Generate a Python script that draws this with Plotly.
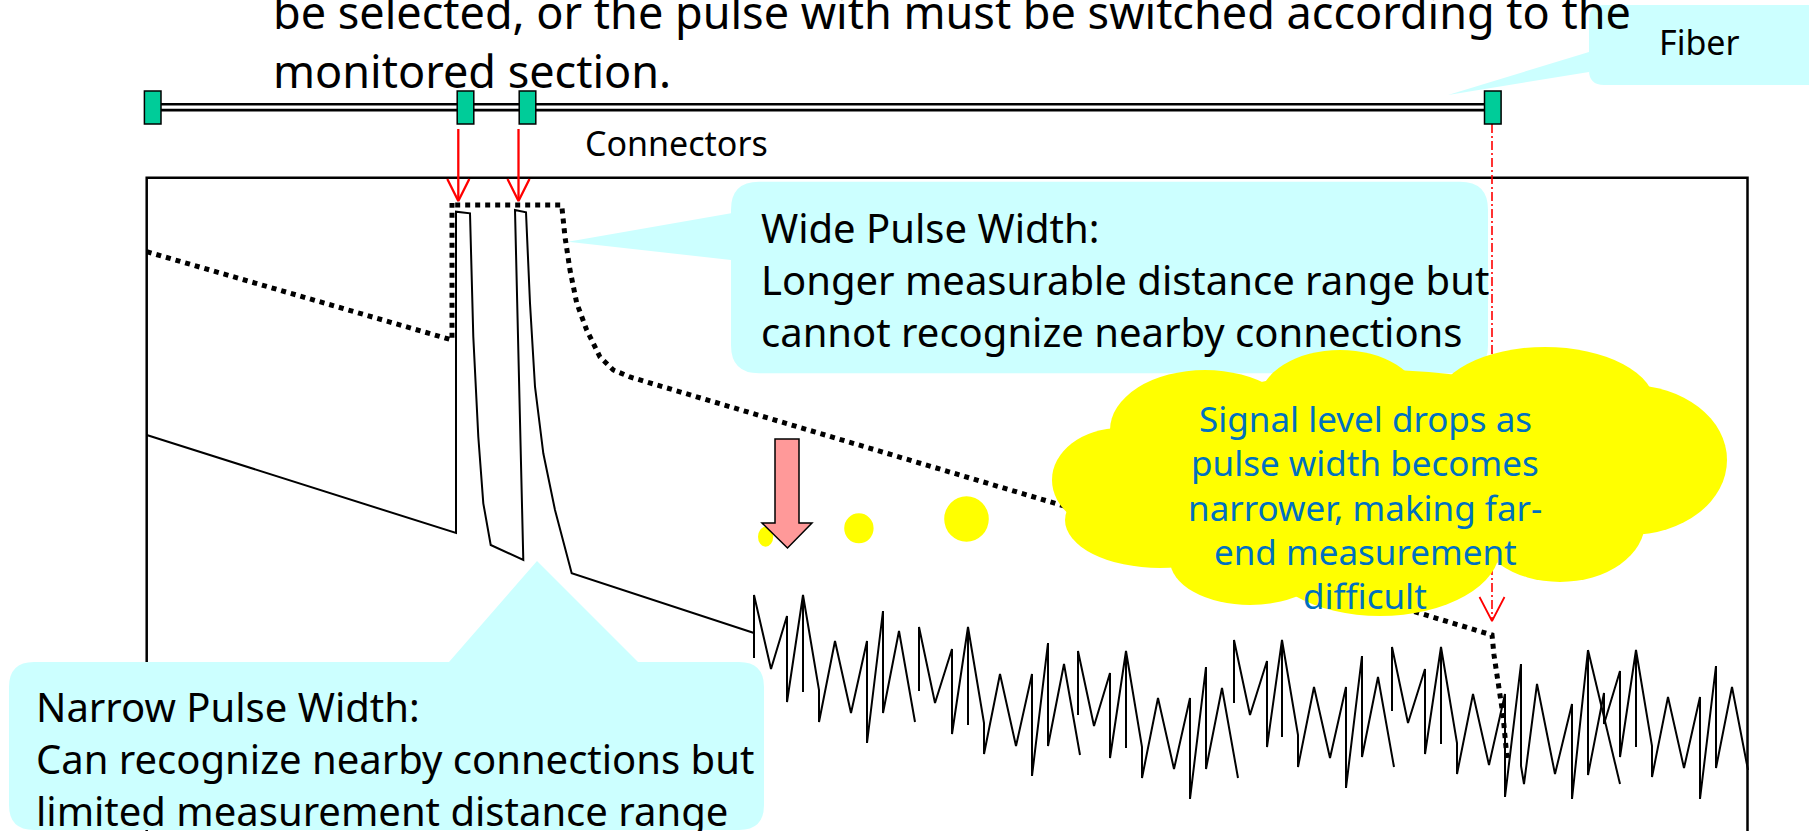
import plotly.graph_objects as go

W, H = 1809, 831
FONT = "Noto Sans"

# ---------------- data (pixel space of the diagram) ----------------
title_lines = ["be selected, or the pulse with must be switched according to the",
               "monitored section."]
wide_lines = ["Wide Pulse Width:",
              "Longer measurable distance range but",
              "cannot recognize nearby connections"]
narrow_lines = ["Narrow Pulse Width:",
                "Can recognize nearby connections but",
                "limited measurement distance range"]
cloud_lines = ["Signal level drops as", "pulse width becomes",
               "narrower, making far-", "end measurement", "difficult"]
fiber_label = "Fiber"
connector_label = "Connectors"

connector_x = [152.7, 465.5, 527.5, 1492.8]
fiber_x = [152.7, 1492.8]
marker_arrow_x = [458.3, 518.5]
far_end_x = 1492

# narrow-pulse trace (solid)
narrow_x = [146.7, 456, 456, 470, 473.3, 478.3, 483.3, 490.7, 523.3, 515, 526,
            530, 535, 543.3, 555, 571.7, 754]
narrow_y = [435, 533, 211.7, 213.3, 336.7, 436.7, 503.3, 545, 560, 210, 212.3,
            303.3, 386.7, 453.3, 510, 573.3, 633]

# wide-pulse trace (dotted)
wide_x = [146.7, 452, 452, 452, 561.7, 565, 570, 576.7, 586.7, 600, 613.3, 630,
          1081, 1423, 1492, 1494, 1498, 1503, 1507]
wide_y = [251.7, 340, 203, 205, 205, 237, 270, 303, 330, 357, 370, 377,
          511, 614, 635, 655, 680, 715, 758]

# noise floor of the narrow-pulse trace
noise_x = [754, 754, 754, 771, 787, 787, 803, 803, 803, 819, 819, 835, 851, 867, 867, 883, 883, 899, 915, None,
           919, 919, 935, 952, 952, 968, 968, 968, 984, 984, 1000, 1016, 1032, 1032, 1048, 1048, 1064, 1080, None,
           1078, 1078, 1094, 1110, 1110, 1126, 1126, 1126, 1142, 1142, 1158, 1174, 1190, 1190, 1206, 1206, 1222, 1238, None,
           1234, 1234, 1250, 1267, 1267, 1282, 1282, 1282, 1298, 1298, 1314, 1330, 1346, 1346, 1362, 1362, 1378, 1394, None,
           1392, 1392, 1408, 1425, 1425, 1441, 1441, 1441, 1457, 1457, 1473, 1489, 1505, 1505, 1521, 1521, 1524, 1537,
           1555, 1572, 1572, 1588, 1588, 1604, 1604, 1620, 1620, 1636, 1636, 1636, 1652, 1652, 1668, 1684, 1700, 1700,
           1716, 1716, 1732, 1748, None,
           1588, 1620]
noise_y = [633, 658, 595, 669, 616, 702, 595, 692, 595, 690, 722, 641, 713, 641, 743, 611, 713, 631, 722, None,
           691, 627, 703, 649, 734, 627, 725, 627, 723, 754, 674, 746, 674, 776, 643, 746, 664, 755, None,
           715, 651, 726, 673, 758, 651, 748, 651, 747, 778, 698, 769, 698, 799, 667, 769, 688, 778, None,
           703, 640, 715, 661, 747, 640, 737, 640, 735, 767, 687, 758, 687, 788, 656, 757, 677, 767, None,
           711, 647, 723, 669, 754, 647, 744, 647, 743, 774, 694, 765, 694, 797, 664, 766, 784, 684,
           774, 704, 799, 650, 775, 693, 724, 671, 757, 650, 747, 650, 746, 777, 697, 768, 697, 799,
           666, 768, 687, 770, None,
           650, 784]

# ---------------- helpers ----------------
def callout_path(x0, y0, x1, y1, r, tail_side=None, t1=None, t2=None, tip=None):
    p = [f"M {x0 + r},{y0}"]
    if tail_side == "top":
        p += [f"L {t1},{y0}", f"L {tip[0]},{tip[1]}", f"L {t2},{y0}"]
    p += [f"L {x1 - r},{y0}", f"Q {x1},{y0} {x1},{y0 + r}",
          f"L {x1},{y1 - r}", f"Q {x1},{y1} {x1 - r},{y1}",
          f"L {x0 + r},{y1}", f"Q {x0},{y1} {x0},{y1 - r}"]
    if tail_side == "left":
        p += [f"L {x0},{t2}", f"L {tip[0]},{tip[1]}", f"L {x0},{t1}"]
    p += [f"L {x0},{y0 + r}", f"Q {x0},{y0} {x0 + r},{y0}", "Z"]
    return " ".join(p)


def ellipse(cx, cy, rx, ry, color):
    return dict(type="circle", xref="x", yref="y", x0=cx - rx, x1=cx + rx,
                y0=cy - ry, y1=cy + ry, fillcolor=color, line=dict(width=0),
                layer="above")


def text_line(txt, x, baseline, size, color="black", anchor="left"):
    return dict(x=x, y=baseline - 0.388 * size, xref="x", yref="y", text=txt,
                showarrow=False, xanchor=anchor, yanchor="middle",
                font=dict(family=FONT, size=size, color=color), borderpad=0)


def text_block(lines, x, center, size, color="black"):
    return dict(x=x, y=center, xref="x", yref="y", text="<br>".join(lines),
                showarrow=False, xanchor="left", yanchor="middle", align="left",
                font=dict(family=FONT, size=size, color=color), borderpad=0)


fig = go.Figure()

# fiber double line
fig.add_trace(go.Scatter(x=fiber_x, y=[107.2, 107.2], mode="lines",
                         line=dict(color="black", width=8.5), hoverinfo="skip"))
fig.add_trace(go.Scatter(x=fiber_x, y=[107.2, 107.2], mode="lines",
                         line=dict(color="white", width=3.2), hoverinfo="skip"))

# wide pulse (dotted)
fig.add_trace(go.Scatter(x=wide_x, y=wide_y, mode="lines",
                         line=dict(color="black", width=5, dash="5px,5px"),
                         hoverinfo="skip"))
# narrow pulse
fig.add_trace(go.Scatter(x=narrow_x, y=narrow_y, mode="lines",
                         line=dict(color="black", width=2), hoverinfo="skip"))
fig.add_trace(go.Scatter(x=noise_x, y=noise_y, mode="lines", connectgaps=False,
                         line=dict(color="black", width=2), hoverinfo="skip"))

# red arrows from connectors
for ax in marker_arrow_x:
    fig.add_trace(go.Scatter(x=[ax, ax], y=[129, 200], mode="lines",
                             line=dict(color="red", width=2.3), hoverinfo="skip"))
    fig.add_trace(go.Scatter(x=[ax - 11, ax, ax + 11], y=[179, 201, 179], mode="lines",
                             line=dict(color="red", width=2.3), hoverinfo="skip"))
fig.add_trace(go.Scatter(x=[far_end_x, far_end_x], y=[124, 620], mode="lines",
                         line=dict(color="red", width=1.6, dash="9px,3px,2px,3px"),
                         hoverinfo="skip"))
fig.add_trace(go.Scatter(x=[far_end_x - 12.5, far_end_x, far_end_x + 12.5], y=[597, 621, 597],
                         mode="lines", line=dict(color="red", width=1.8), hoverinfo="skip"))

shapes = []
# OTDR display frame
shapes.append(dict(type="rect", xref="x", yref="y", x0=146.7, x1=1747.5, y0=177.7, y1=900,
                   line=dict(color="black", width=2.5), fillcolor="rgba(0,0,0,0)", layer="below"))
# connectors
for cx in connector_x:
    shapes.append(dict(type="rect", xref="x", yref="y", x0=cx - 8.3, x1=cx + 8.3, y0=91, y1=124,
                       fillcolor="#00CC99", line=dict(color="black", width=1.5), layer="above"))

CYAN = "#CCFFFF"
shapes.append(dict(type="path", xref="x", yref="y", layer="above", fillcolor=CYAN, line=dict(width=0),
                   path=callout_path(731, 181.7, 1488, 373.3, 28, "left", 213.3, 260, (568, 241.7))))
shapes.append(dict(type="path", xref="x", yref="y", layer="above", fillcolor=CYAN, line=dict(width=0),
                   path=callout_path(9, 662, 764, 830, 25, "top", 449, 638, (537, 561))))
shapes.append(dict(type="path", xref="x", yref="y", layer="above", fillcolor=CYAN, line=dict(width=0),
                   path=callout_path(1589, 5, 1840, 85, 15, "left", 52, 72, (1448, 95))))

YEL = "#FFFF00"
cloud = [(1380, 470, 250, 100), (1120, 480, 68, 52), (1160, 520, 95, 48), (1205, 430, 95, 60),
         (1340, 400, 80, 50), (1545, 405, 110, 58), (1630, 460, 97, 75), (1560, 522, 85, 60),
         (1380, 548, 120, 68), (1250, 560, 80, 45)]
for c in cloud:
    shapes.append(ellipse(*c, YEL))
for c in [(765.6, 536.7, 7.6, 10), (858.9, 528.3, 14.7, 15), (966.5, 519, 22.3, 22.7)]:
    shapes.append(ellipse(*c, YEL))

# pink down arrow
shapes.append(dict(type="path", xref="x", yref="y", layer="above", fillcolor="#FF9999",
                   line=dict(color="black", width=1.5),
                   path="M 775,439 L 799,439 L 799,523 L 812,523 L 787.5,548 L 762,523 L 775,523 Z"))

ann = []
for t, b in zip(title_lines, [29, 88]):
    ann.append(text_line(t, 272, b, 45))
ann.append(text_block(wide_lines, 760, 279, 40))
ann.append(text_block(narrow_lines, 35, 758.5, 40))
for t, b in zip(cloud_lines, [431.7, 476.2, 520.7, 565, 609.5]):
    ann.append(text_line(t, 1365, b, 35, color="#0070C0", anchor="center"))
ann.append(text_line(connector_label, 584, 156.5, 34))
ann.append(text_line(fiber_label, 1658, 55, 34))

fig.update_layout(width=W, height=H, margin=dict(l=0, r=0, t=0, b=0),
                  paper_bgcolor="white", plot_bgcolor="white", showlegend=False,
                  shapes=shapes, annotations=ann,
                  xaxis=dict(range=[0, W], visible=False, fixedrange=True),
                  yaxis=dict(range=[H, 0], visible=False, fixedrange=True))

fig.write_html("out.html", post_script="document.body.style.margin='0';",
               config={"displayModeBar": False})
